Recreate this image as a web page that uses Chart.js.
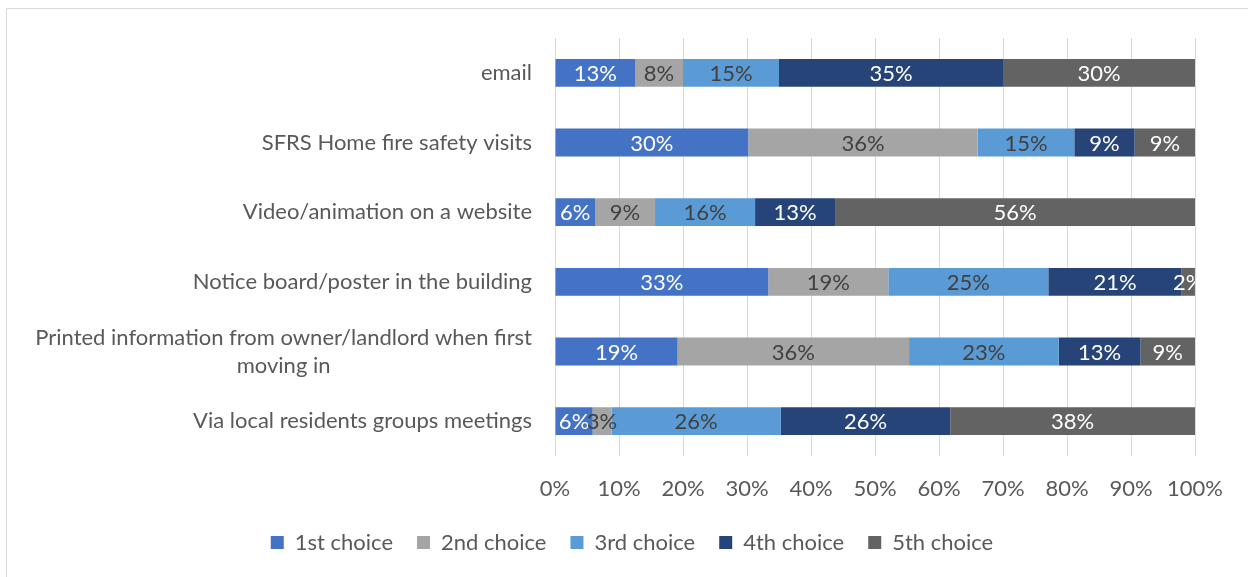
<!DOCTYPE html>
<html><head><meta charset="utf-8">
<script src="https://cdn.jsdelivr.net/npm/chart.js@4"></script>
<style>html,body{margin:0;padding:0;background:#fff;overflow:hidden}</style>
</head><body>
<canvas id="c" width="1248" height="577"></canvas>
<script>
const categories = [
  'email',
  'SFRS Home fire safety visits',
  'Video/animation on a website',
  'Notice board/poster in the building',
  ['Printed information from owner/landlord when first', 'moving in'],
  'Via local residents groups meetings'
];
const seriesNames = ['1st choice', '2nd choice', '3rd choice', '4th choice', '5th choice'];
const firstChoice  = [12.5, 30.2, 6.25, 33.33, 19.15, 5.88];
const secondChoice = [7.5, 35.85, 9.38, 18.75, 36.17, 2.94];
const thirdChoice  = [15, 15.09, 15.63, 25, 23.4, 26.47];
const fourthChoice = [35, 9.43, 12.5, 20.83, 12.77, 26.47];
const fifthChoice  = [30, 9.43, 56.25, 2.08, 8.51, 38.24];
const xTickLabels = ['0%', '10%', '20%', '30%', '40%', '50%', '60%', '70%', '80%', '90%', '100%'];

const colors = ['#4472C4', '#A5A5A5', '#5B9BD5', '#264478', '#636363'];
const labelColors = ['#FFFFFF', '#404040', '#404040', '#FFFFFF', '#FFFFFF'];
const FONT = 'Lato';
const FS = 22;
const seriesValues = [firstChoice, secondChoice, thirdChoice, fourthChoice, fifthChoice];

const framePlugin = {
  id: 'frame',
  beforeDraw(chart) {
    const ctx = chart.ctx;
    ctx.save();
    ctx.fillStyle = '#fff';
    ctx.fillRect(0, 0, chart.width, chart.height);
    ctx.strokeStyle = '#D9D9D9';
    ctx.lineWidth = 1;
    ctx.beginPath();
    ctx.moveTo(6.5, chart.height + 2);
    ctx.lineTo(6.5, 8.5);
    ctx.lineTo(chart.width + 2, 8.5);
    ctx.stroke();
    ctx.restore();
  }
};

const yLabelPlugin = {
  id: 'ylabels',
  afterDraw(chart) {
    const ctx = chart.ctx;
    const ys = chart.scales.y;
    const right = chart.chartArea.left - 23;
    ctx.save();
    ctx.font = FS + 'px ' + FONT;
    ctx.fillStyle = '#595959';
    ctx.textBaseline = 'middle';
    categories.forEach((lab, i) => {
      const y = ys.getPixelForValue(i);
      if (Array.isArray(lab)) {
        const maxW = Math.max(...lab.map(t => ctx.measureText(t).width));
        const cx = right - maxW / 2;
        ctx.textAlign = 'center';
        const lh = 28;
        lab.forEach((t, j) => ctx.fillText(t, cx, y + (j - (lab.length - 1) / 2) * lh));
      } else {
        ctx.textAlign = 'right';
        ctx.fillText(lab, right, y);
      }
    });
    ctx.restore();
  }
};

const dataLabelPlugin = {
  id: 'dlabels',
  afterDatasetsDraw(chart) {
    const ctx = chart.ctx;
    const a = chart.chartArea;
    ctx.save();
    ctx.beginPath();
    ctx.rect(a.left, a.top, a.right - a.left, a.bottom - a.top);
    ctx.clip();
    ctx.font = FS + 'px ' + FONT;
    ctx.textAlign = 'center';
    ctx.textBaseline = 'middle';
    chart.data.datasets.forEach((ds, di) => {
      const meta = chart.getDatasetMeta(di);
      ctx.fillStyle = labelColors[di];
      meta.data.forEach((el, i) => {
        const v = ds.data[i];
        const cx = (el.x + el.base) / 2;
        ctx.fillText(Math.round(v) + '%', cx, el.y + 1);
      });
    });
    ctx.restore();
  }
};

new Chart(document.getElementById('c'), {
  type: 'bar',
  data: {
    labels: categories.map(c => Array.isArray(c) ? c.join(' ') : c),
    datasets: seriesNames.map((n, i) => ({
      label: n,
      data: seriesValues[i],
      backgroundColor: colors[i],
      borderWidth: 0,
      barPercentage: 0.4,
      categoryPercentage: 1.0
    }))
  },
  options: {
    indexAxis: 'y',
    responsive: false,
    animation: false,
    layout: { padding: { top: 38, right: 53, bottom: 13.5, left: 69 } },
    scales: {
      x: {
        stacked: true,
        min: 0, max: 100,
        afterFit(s) { s.height = 51.5; },
        grid: { color: '#D9D9D9', lineWidth: 1, drawTicks: false },
        border: { display: false },
        ticks: {
          stepSize: 10,
          padding: 20,
          color: '#595959',
          font: { family: FONT, size: FS },
          maxRotation: 0,
          callback: (v, idx) => xTickLabels[idx]
        }
      },
      y: {
        stacked: true,
        afterFit(s) { s.width = 555 - 69; },
        grid: { display: false },
        border: { display: false },
        ticks: { display: false }
      }
    },
    plugins: {
      legend: {
        position: 'bottom',
        labels: {
          boxWidth: 13, boxHeight: 13, padding: 24,
          color: '#595959',
          font: { family: FONT, size: FS }
        }
      },
      tooltip: { enabled: false }
    }
  },
  plugins: [framePlugin, yLabelPlugin, dataLabelPlugin]
});
</script>
</body></html>
